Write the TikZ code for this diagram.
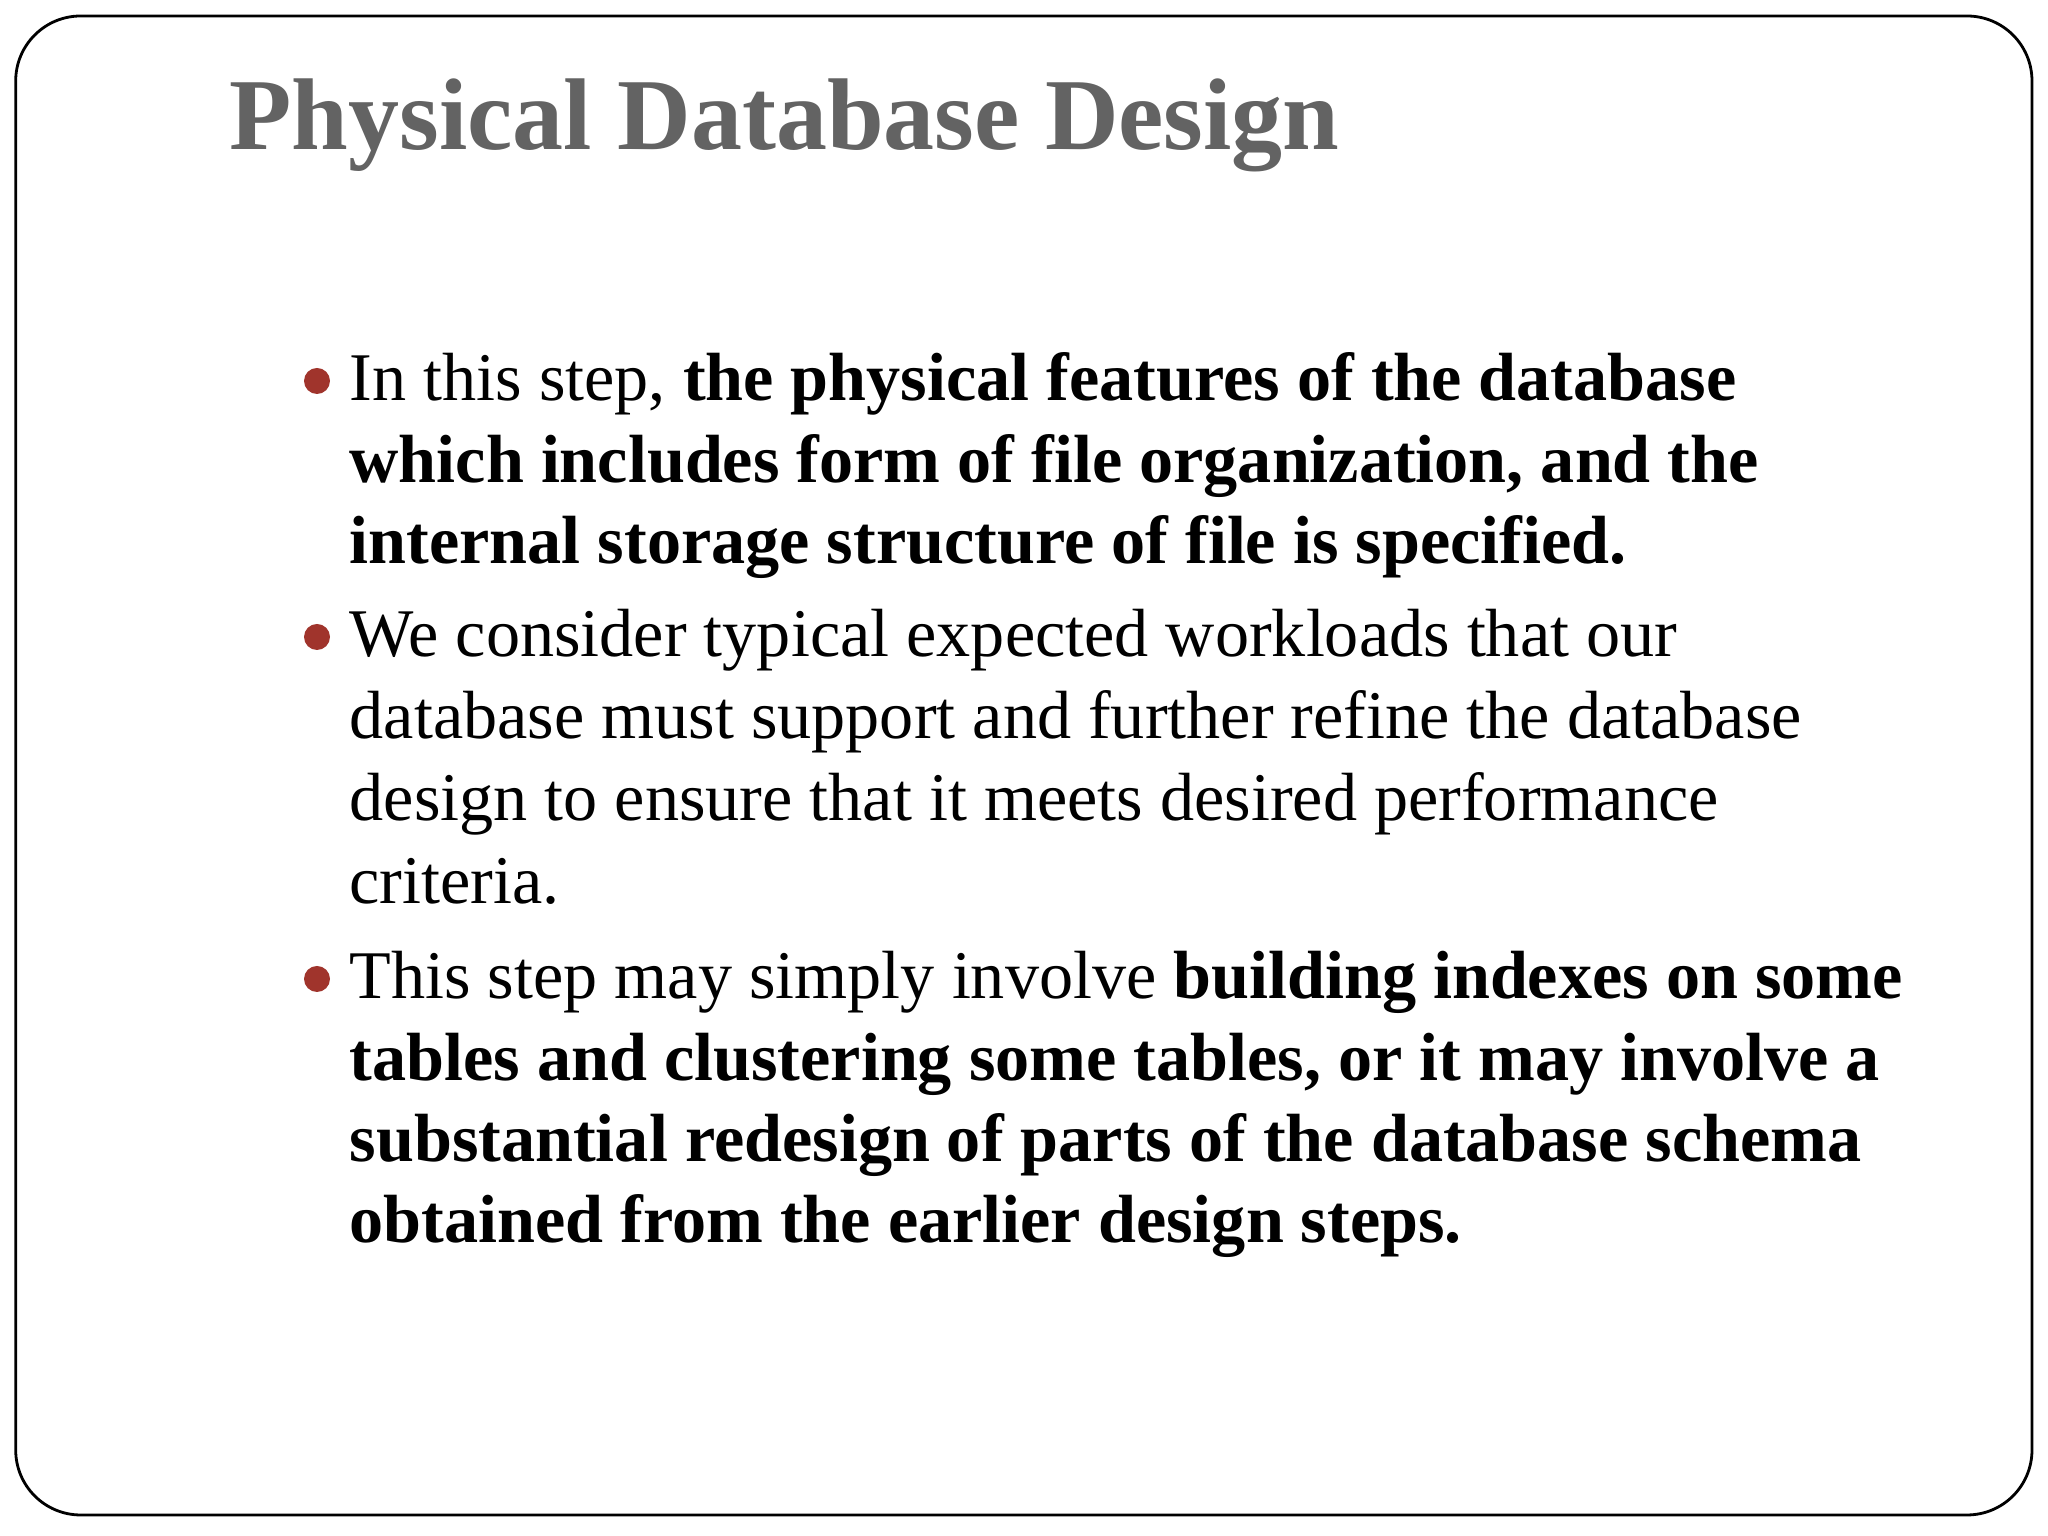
\documentclass[tikz,border=0pt]{standalone}
\usepackage{fontspec}
\setmainfont{Liberation Serif}
\definecolor{titlegray}{HTML}{636363}
\definecolor{bulletred}{HTML}{A0342C}
\begin{document}
\begin{tikzpicture}[x=1cm,y=1cm,
  line/.style={anchor=base west,inner sep=0pt,font=\fontsize{19.4}{24}\selectfont},
  dot/.style={circle,fill=bulletred,inner sep=0pt,minimum size=0.26cm}]
\useasboundingbox (0,0) rectangle (20.48,15.36);
\draw[line width=0.8pt,rounded corners=0.65cm] (0.157,0.21) rectangle (20.32,15.20);
\node[anchor=base west,inner sep=0pt,text=titlegray,font=\fontsize{29}{34}\selectfont\bfseries] (title) at (2.29,13.86) {Physical Database Design};
\node[dot] (b1) at (3.17,11.55) {};
\node[dot] (b2) at (3.17,8.99) {};
\node[dot] (b3) at (3.17,5.57) {};
\node[line] (l1) at (3.49,11.35) {In this step, \textbf{the physical features of the database}};
\node[line] (l2) at (3.49,10.53) {\textbf{which includes form of file organization, and the}};
\node[line] (l3) at (3.49,9.72) {\textbf{internal storage structure of file is specified.}};
\node[line] (l4) at (3.49,8.79) {We consider typical expected workloads that our};
\node[line] (l5) at (3.49,7.97) {database must support and further refine the database};
\node[line] (l6) at (3.49,7.15) {design to ensure that it meets desired performance};
\node[line] (l7) at (3.49,6.32) {criteria.};
\node[line] (l8) at (3.49,5.37) {This step may simply involve \textbf{building indexes on some}};
\node[line] (l9) at (3.49,4.55) {\textbf{tables and clustering some tables, or it may involve a}};
\node[line] (l10) at (3.49,3.74) {\textbf{substantial redesign of parts of the database schema}};
\node[line] (l11) at (3.49,2.93) {\textbf{obtained from the earlier design steps.}};
\end{tikzpicture}
\end{document}
